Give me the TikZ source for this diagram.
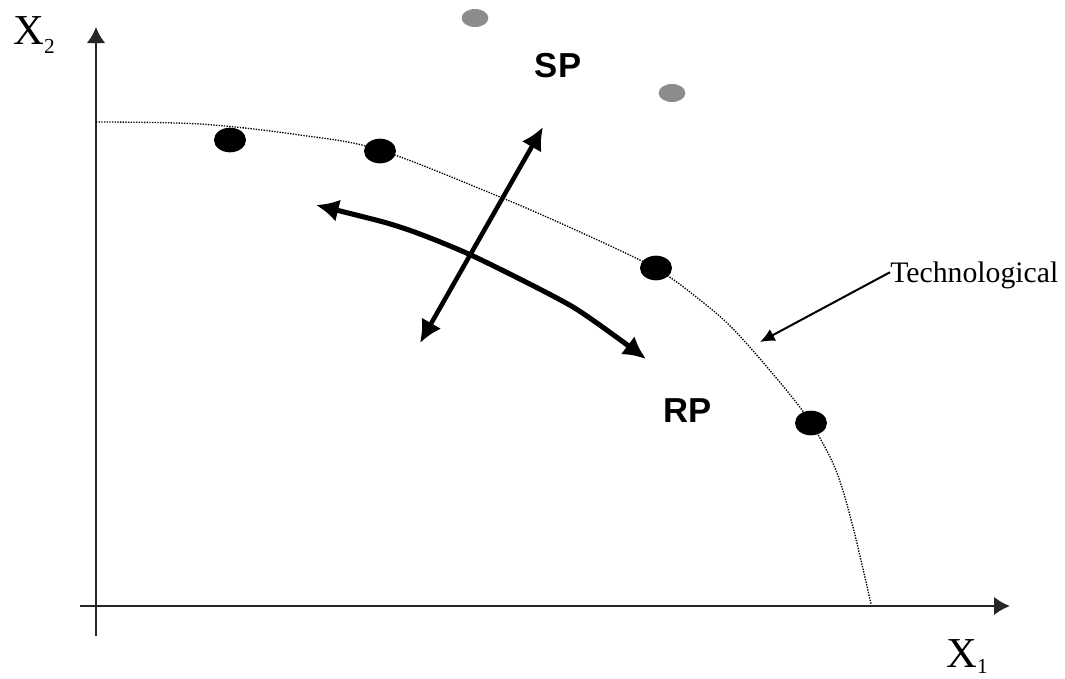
\documentclass[tikz,border=0pt]{standalone}
\usepackage{fontspec}
\setmainfont{Liberation Serif}
\newfontfamily\arialfont{Liberation Sans}
\usetikzlibrary{arrows.meta,shapes.geometric}
\begin{document}
\begin{tikzpicture}[x=0.75pt,y=-0.75pt,
  axis/.style={line width=1.9pt,draw=black!85,-{Latex[length=12pt,width=14pt]}},
  blackdot/.style={ellipse,fill=black,minimum width=24pt,minimum height=18.5pt,inner sep=0pt},
  graydot/.style={ellipse,fill=black!45,minimum width=20pt,minimum height=13.5pt,inner sep=0pt},
  bigarrow/.style={line width=3.4pt,{Latex[length=17pt,width=17pt]}-{Latex[length=17pt,width=17pt]}},
  frontier/.style={line width=1pt,densely dotted},
  axlabel/.style={font=\fontsize{32}{32}\selectfont,inner sep=0pt},
  planelabel/.style={font=\arialfont\bfseries\fontsize{26}{26}\selectfont,inner sep=0pt}]
\useasboundingbox (0,0) rectangle (1065,679);
% axes
\coordinate (ybot) at (96,636);
\coordinate (ytop) at (96,27);
\coordinate (xleft) at (80,606);
\coordinate (xright) at (1010,606);
\draw[axis] (ybot) -- (ytop);
\draw[axis] (xleft) -- (xright);
\node[axlabel,anchor=base west] (x2) at (13,44) {X\raisebox{-7pt}{\fontsize{16}{16}\selectfont 2}};
\node[axlabel,anchor=base west] (x1) at (946,667) {X\raisebox{-5pt}{\fontsize{16}{16}\selectfont 1}};
% frontier
\draw[frontier] plot[smooth,tension=0.55] coordinates {(96,122) (200,124) (300,135) (380,150) (500,197) (580,232) (655,268) (700,300) (737,333) (792,397) (817,433) (837,473) (853,527) (871,604)};
% dots
\node[blackdot] (d1) at (230,140) {};
\node[blackdot] (d2) at (380,151) {};
\node[blackdot] (d3) at (656,268) {};
\node[blackdot] (d4) at (811,423) {};
\node[graydot] (g1) at (475,18) {};
\node[graydot] (g2) at (672,93) {};
% labels
\node[planelabel] (sp) at (558,66) {SP};
\node[planelabel] (rp) at (688,411) {RP};
% arrows
\coordinate (s1) at (420,343);
\coordinate (s2) at (543,127);
\draw[bigarrow] (s1) -- (s2);
\coordinate (r1) at (316,205);
\coordinate (r2) at (646,359);
\draw[bigarrow,line width=3.8pt] plot[smooth,tension=0.4] coordinates {(r1) (403,228) (473,256) (573,307) (r2)};
% technological
\node[font=\fontsize{22.3}{22.3}\selectfont,inner sep=0pt,anchor=base west] (tech) at (890,282) {Technological};
\coordinate (tt) at (760,342);
\draw[line width=1.5pt,-{Latex[length=11pt,width=10pt]}] ([yshift=2pt]tech.west) -- (tt);
\end{tikzpicture}
\end{document}
